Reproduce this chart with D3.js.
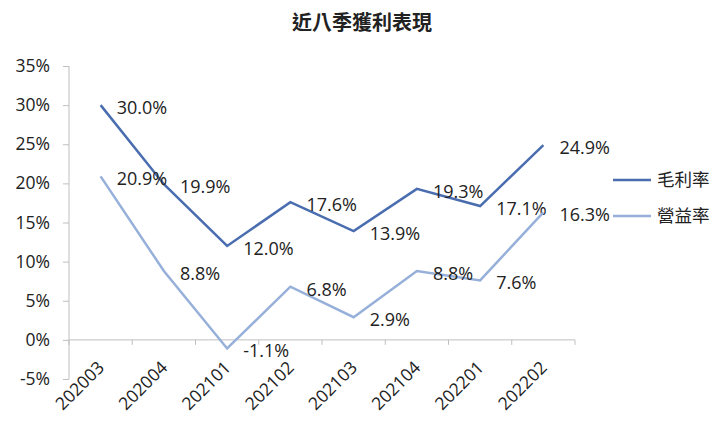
<!DOCTYPE html>
<html lang="zh-Hant">
<head>
  <meta charset="UTF-8">
  <title>近八季獲利表現</title>
  <style>
      body { margin: 0; background: #fff; }
      svg text { fill: #222; }
      .axis path, .axis line { stroke: #bfbfbf; }
      .axis text { font-family: "Open Sans", "Noto Sans CJK TC", sans-serif; font-size: 17.5px; }
      .label { font-family: "Open Sans", sans-serif; font-size: 18px; }
      .legend text { font-family: "Noto Sans CJK TC", sans-serif; font-size: 17.5px; }
  </style>
</head>
<body>
<div id="chart"></div>
<script src="https://d3js.org/d3.v7.min.js"></script>
<script>
  const quarters = ['202003', '202004', '202101', '202102', '202103', '202104', '202201', '202202'];
  const grossMargin = [30.0, 19.9, 12.0, 17.6, 13.9, 19.3, 17.1, 24.9];
  const opMargin = [20.9, 8.8, -1.1, 6.8, 2.9, 8.8, 7.6, 16.3];
  const seriesNames = ['毛利率', '營益率'];
  const seriesColors = ['#4a6db0', '#97b0da'];
  const yTicks = [-5, 0, 5, 10, 15, 20, 25, 30, 35];

  const width = 720, height = 423;
  const margin = {top: 66, right: 145, bottom: 44, left: 69};

  const svg = d3.select("#chart").append("svg")
    .attr("width", width)
    .attr("height", height);

  svg.append("text")
    .attr("x", 362)
    .attr("y", 30)
    .attr("text-anchor", "middle")
    .style("font-family", "'Noto Sans CJK TC', sans-serif")
    .style("font-size", "20px")
    .style("font-weight", "bold")
    .text("近八季獲利表現");

  const x = d3.scaleBand()
    .domain(quarters)
    .range([margin.left, width - margin.right]);

  const y = d3.scaleLinear()
    .domain([-5, 35])
    .range([height - margin.bottom, margin.top]);

  // y axis
  svg.append("g")
    .attr("class", "axis")
    .attr("transform", `translate(${margin.left},0)`)
    .call(d3.axisLeft(y).tickValues(yTicks).tickSize(6).tickPadding(13)
      .tickFormat(d => d + "%"))
    .call(g => g.select(".domain").attr("d", `M0,${y(35)}V${y(-5)}`));

  // x axis at 0%, ticks between categories
  const xAxis = svg.append("g")
    .attr("class", "axis")
    .attr("transform", `translate(0,${y(0)})`);

  xAxis.append("path")
    .attr("d", `M${margin.left},0H${width - margin.right}`)
    .attr("fill", "none")
    .attr("stroke", "#bfbfbf");

  xAxis.selectAll(".tick")
    .data(d3.range(quarters.length + 1))
    .enter().append("line")
    .attr("x1", i => margin.left + i * x.step())
    .attr("x2", i => margin.left + i * x.step())
    .attr("y1", 0)
    .attr("y2", 5)
    .attr("stroke", "#bfbfbf");

  svg.append("g")
    .attr("class", "axis")
    .selectAll("text")
    .data(quarters)
    .enter().append("text")
    .attr("transform", d => `translate(${x(d) + x.bandwidth() / 2 - 4},${y(-5) - 19}) rotate(-45)`)
    .attr("text-anchor", "end")
    .attr("dy", "0.7em")
    .text(d => d);

  const line = d3.line()
    .x((d, i) => x(quarters[i]) + x.bandwidth() / 2)
    .y(d => y(d));

  const series = [grossMargin, opMargin];

  series.forEach((values, s) => {
    svg.append("path")
      .datum(values)
      .attr("fill", "none")
      .attr("stroke", seriesColors[s])
      .attr("stroke-width", 2.5)
      .attr("d", line);

    svg.selectAll(".label-" + s)
      .data(values)
      .enter().append("text")
      .attr("class", "label label-" + s)
      .attr("x", (d, i) => x(quarters[i]) + x.bandwidth() / 2 + 16)
      .attr("y", d => y(d) + 9)
      .text(d => d.toFixed(1) + "%");
  });

  // legend
  const legend = svg.append("g")
    .attr("class", "legend");

  seriesNames.forEach((name, s) => {
    const ly = 180 + s * 36;
    legend.append("line")
      .attr("x1", 613).attr("x2", 651)
      .attr("y1", ly).attr("y2", ly)
      .attr("stroke", seriesColors[s])
      .attr("stroke-width", 2.5);
    legend.append("text")
      .attr("x", 657)
      .attr("y", ly + 6)
      .text(name);
  });
</script>
</body>
</html>
